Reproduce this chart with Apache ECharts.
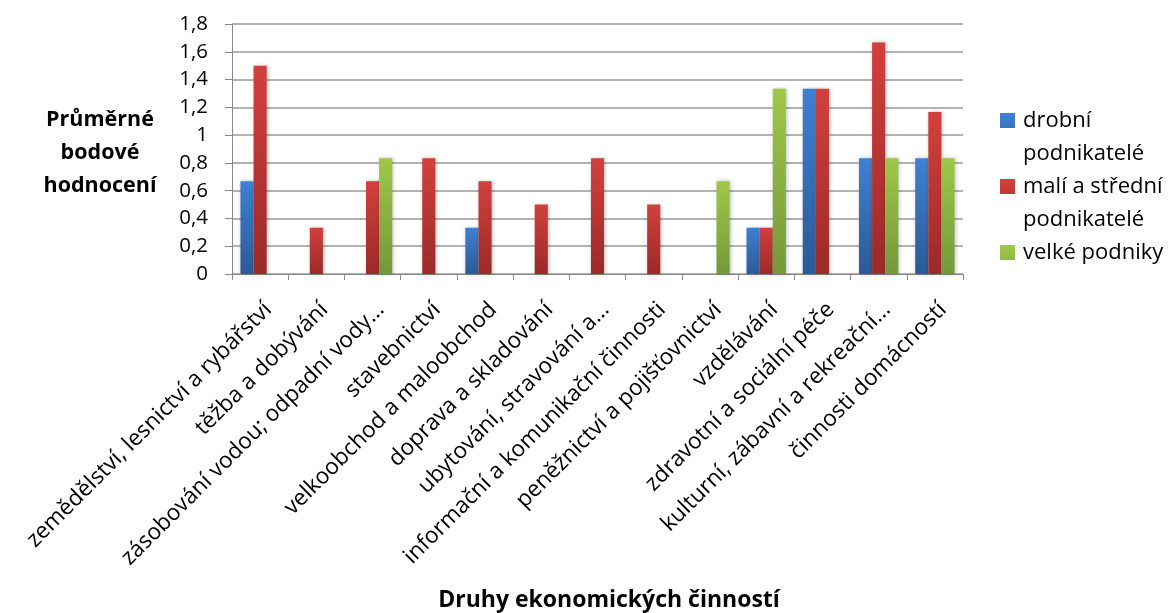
<!DOCTYPE html>
<html>
<head>
<meta charset="utf-8">
<script src="https://cdn.jsdelivr.net/npm/echarts@6/dist/echarts.min.js"></script>
<style>
html,body{margin:0;padding:0;background:#fff;}
#c{width:1171px;height:613px;}
</style>
</head>
<body>
<div id="c"></div>
<script>
const categories = [
  'zemědělství, lesnictví a rybářství',
  'těžba a dobývání',
  'zásobování vodou; odpadní vody…',
  'stavebnictví',
  'velkoobchod a maloobchod',
  'doprava a skladování',
  'ubytování, stravování a…',
  'informační a komunikační činnosti',
  'peněžnictví a pojišťovnictví',
  'vzdělávání',
  'zdravotní a sociální péče',
  'kulturní, zábavní a rekreační…',
  'činnosti domácností'
];
const seriesNames = ['drobní podnikatelé', 'malí a střední podnikatelé', 'velké podniky'];
const drobni = [0.667, 0, 0, 0, 0.333, 0, 0, 0, 0, 0.333, 1.333, 0.833, 0.833];
const maliStredni = [1.5, 0.333, 0.667, 0.833, 0.667, 0.5, 0.833, 0.5, 0, 0.333, 1.333, 1.667, 1.167];
const velke = [0, 0, 0.833, 0, 0, 0, 0, 0, 0.667, 1.333, 0, 0.833, 0.833];
const yTicks = ['0', '0,2', '0,4', '0,6', '0,8', '1', '1,2', '1,4', '1,6', '1,8'];
const legendLabels = ['drobní\npodnikatelé', 'malí a střední\npodnikatelé', 'velké podniky\n '];
const yAxisTitle = 'Průměrné\nbodové\nhodnocení';
const xAxisTitle = 'Druhy ekonomických činností';

const FONT = '"Open Sans", sans-serif';
function grad(top, bottom) {
  return {type: 'linear', x: 0, y: 0, x2: 0, y2: 1,
    colorStops: [{offset: 0, color: top}, {offset: 1, color: bottom}]};
}
const colors = [grad('#3f80d2', '#2b5a96'), grad('#d2403d', '#9b2a28'), grad('#9fc848', '#74983a')];
const solid = ['#3a74bf', '#c0392f', '#8db542'];
const dataSets = [drobni, maliStredni, velke];

const chart = echarts.init(document.getElementById('c'), null, {renderer: 'canvas'});
const option = {
  animation: false,
  textStyle: {fontFamily: FONT},
  grid: {left: 232, right: 208, top: 24, bottom: 339, containLabel: false},
  legend: {
    orient: 'vertical',
    left: 1000,
    top: 104,
    padding: 0,
    itemGap: 0,
    itemWidth: 18,
    itemHeight: 48,
    icon: 'path://M0,0L15,0L15,15L0,15Z M18,48L18.01,48',
    textStyle: {fontFamily: FONT, fontSize: 22, lineHeight: 33, color: '#000'},
    formatter: function (name) { return legendLabels[seriesNames.indexOf(name)]; },
    data: seriesNames
  },
  xAxis: {
    type: 'category',
    data: categories,
    axisLine: {show: true, lineStyle: {color: '#888', width: 1}},
    axisTick: {show: true, alignWithLabel: false, length: 6, lineStyle: {color: '#888'}},
    axisLabel: {interval: 0, rotate: 45, margin: 24, verticalAlign: 'top', fontFamily: FONT, fontSize: 22.5, color: '#000'},
    splitLine: {show: false}
  },
  yAxis: {
    type: 'value',
    min: 0, max: 1.8, interval: 0.2,
    axisLine: {show: true, lineStyle: {color: '#888', width: 1}},
    axisTick: {show: true, length: 7, lineStyle: {color: '#888'}},
    axisLabel: {
      margin: 24, fontFamily: FONT, fontSize: 20.5, color: '#000',
      formatter: function (v) { return yTicks[Math.round(v / 0.2)]; }
    },
    splitLine: {show: true, lineStyle: {color: '#9a9a9a', width: 1.5}}
  },
  graphic: [
    {type: 'text', x: 100, y: 153,
      style: {text: yAxisTitle, x: 0, y: 0, align: 'center', verticalAlign: 'middle',
        font: 'bold 21.5px ' + FONT, lineHeight: 33, fill: '#000'}},
    {type: 'text', x: 609, y: 600,
      style: {text: xAxisTitle, x: 0, y: 0, align: 'center', verticalAlign: 'middle',
        font: 'bold 23px ' + FONT, fill: '#000'}}
  ],
  series: seriesNames.map(function (name, i) {
    return {
      name: name,
      type: 'bar',
      data: dataSets[i],
      barGap: '0%',
      barCategoryGap: '30%',
      color: solid[i],
      itemStyle: {color: colors[i], shadowColor: 'rgba(0,0,0,0.25)', shadowBlur: 4, shadowOffsetX: 1, shadowOffsetY: 0}
    };
  })
};
chart.setOption(option);
</script>
</body>
</html>
